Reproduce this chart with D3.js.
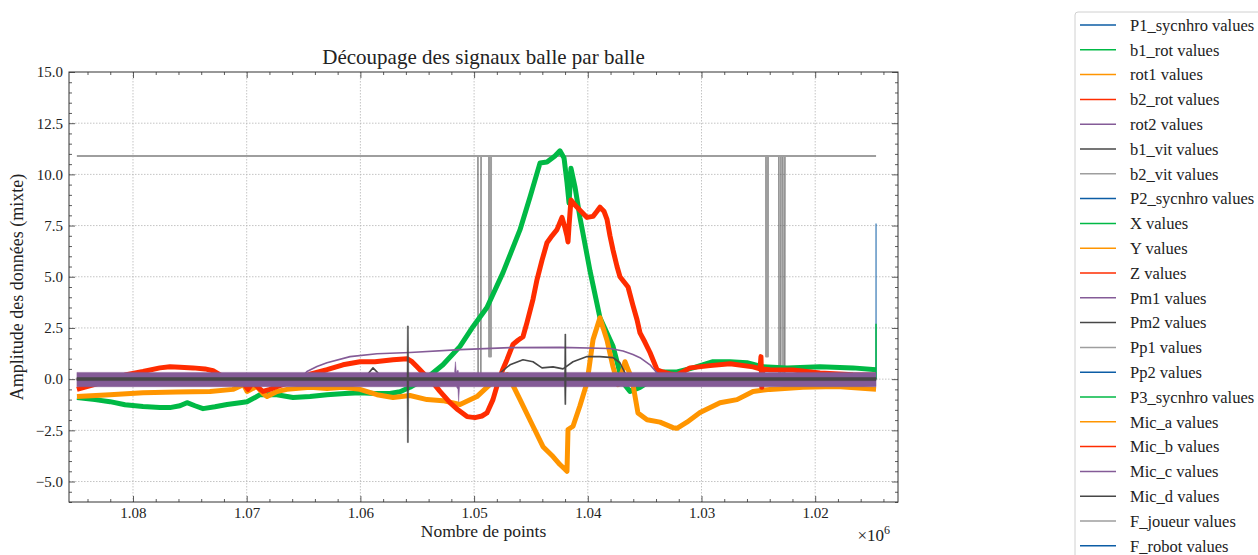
<!DOCTYPE html>
<html><head><meta charset="utf-8">
<script src="https://cdn.jsdelivr.net/npm/d3@7"></script>
<style>
body{margin:0;background:#fff;}
text{font-family:"Liberation Serif","DejaVu Serif",serif;fill:#222;}
</style>
</head><body>
<svg id="chart" width="1258" height="555"></svg>
<script>
// ---------------- DATA ----------------
const seriesNames = ["P1_sycnhro values","b1_rot values","rot1 values","b2_rot values","rot2 values",
  "b1_vit values","b2_vit values","P2_sycnhro values","X values","Y values","Z values","Pm1 values",
  "Pm2 values","Pp1 values","Pp2 values","P3_sycnhro values","Mic_a values","Mic_b values",
  "Mic_c values","Mic_d values","F_joueur values","F_robot values"];
const palette = ["#0C5DA5","#00B945","#FF9500","#FF2C00","#845B97","#474747","#9e9e9e"];
const xTicks = [1080000,1070000,1060000,1050000,1040000,1030000,1020000];
const yTicks = [-5,-2.5,0,2.5,5,7.5,10,12.5,15];

const xStart = 1084930, xEnd = 1014650;
const zeroLine = [[xStart,0],[xEnd,0]];

const X_values = [[1084930,-0.9],[1083340,-1.0],[1082020,-1.1],[1080700,-1.25],[1079120,-1.34],[1077630,-1.38],
 [1076750,-1.39],[1075870,-1.3],[1075250,-1.15],[1074550,-1.3],[1073840,-1.44],[1072790,-1.35],[1071730,-1.24],
 [1070590,-1.15],[1069970,-1.1],[1069270,-0.9],[1068830,-0.76],[1067340,-0.76],[1065930,-0.9],[1064430,-0.85],
 [1062940,-0.76],[1061350,-0.7],[1060040,-0.66],[1058720,-0.7],[1057400,-0.7],[1056520,-0.62],[1055640,-0.4],
 [1054140,0.07],[1052740,0.7],[1051240,1.6],[1050100,2.56],[1048870,3.5],[1047460,5.2],[1045960,7.3],
 [1045080,8.9],[1044200,10.56],[1043590,10.6],[1042890,10.9],[1042450,11.15],[1042090,10.8],[1041830,9.6],
 [1041650,8.6],[1041480,10.3],[1041130,9.4],[1040690,7.9],[1039810,5.3],[1038930,3.0],[1037780,1.6],
 [1037170,0.3],[1036730,-0.3],[1036290,-0.6],[1035410,-0.4],[1034530,-0.1],[1033650,0.35],[1032160,0.35],
 [1030750,0.55],[1028990,0.85],[1027490,0.85],[1026000,0.8],[1024590,0.6],[1022480,0.55],[1019580,0.6],
 [1016680,0.55],[1014650,0.46]];

const Y_values = [[1084930,-0.85],[1082020,-0.76],[1079120,-0.66],[1076130,-0.63],[1073230,-0.6],[1071210,-0.5],
 [1070590,-0.35],[1070410,-0.17],[1070150,-0.4],[1069970,-0.6],[1069450,-0.45],[1069090,-0.36],[1068570,-0.7],
 [1068210,-0.85],[1067340,-0.6],[1066460,-0.5],[1064430,-0.4],[1062940,-0.46],[1061530,-0.4],[1060040,-0.5],
 [1058540,-0.76],[1057130,-0.9],[1055640,-0.8],[1054140,-1.0],[1052740,-1.05],[1051240,-1.24],[1049750,-0.85],
 [1048340,-0.12],[1047110,0.22],[1046580,-0.3],[1045960,-1.0],[1044820,-2.3],[1043940,-3.3],[1043060,-3.78],
 [1042450,-4.17],[1042010,-4.4],[1041830,-4.5],[1041740,-2.46],[1041300,-2.3],[1040690,-1.3],[1040070,-0.17],
 [1039540,1.93],[1038930,3.0],[1038310,1.9],[1037780,0.6],[1037340,-0.27],[1036900,0.5],[1036730,0.85],
 [1036550,0.6],[1036110,0.0],[1035590,-1.65],[1034790,-1.98],[1033650,-2.1],[1032510,-2.37],[1032160,-2.4],
 [1031280,-2.1],[1030130,-1.63],[1028370,-1.15],[1026880,-1.0],[1025470,-0.6],[1023980,-0.5],[1021070,-0.4],
 [1018080,-0.36],[1014650,-0.5]];

const Z_values = [[1084930,-0.5],[1083340,-0.25],[1082020,-0.02],[1080700,0.2],[1079120,0.37],[1077630,0.55],
 [1076750,0.6],[1075870,0.58],[1074720,0.55],[1073670,0.5],[1072960,0.41],[1072080,0.12],[1071210,0.05],
 [1070590,0.0],[1070150,-0.3],[1069890,-0.5],[1069450,-0.15],[1069010,-0.4],[1068570,-0.6],[1067950,-0.5],
 [1067340,-0.36],[1065930,-0.1],[1064430,0.24],[1062940,0.46],[1061530,0.7],[1060040,0.85],[1058720,0.85],
 [1057130,0.95],[1055900,1.0],[1055460,0.85],[1055020,0.6],[1054320,0.2],[1053620,-0.17],[1053000,-0.6],
 [1052120,-1.15],[1051420,-1.5],[1050620,-1.83],[1049920,-1.88],[1049310,-1.8],[1048870,-1.65],[1048340,-1.0],
 [1047900,-0.17],[1047460,0.5],[1047110,0.95],[1046580,1.7],[1046140,1.9],[1045700,2.07],[1045350,2.76],
 [1044820,3.9],[1044470,4.85],[1044030,5.8],[1043590,6.66],[1043150,7.0],[1042710,7.3],[1042270,7.9],
 [1042010,7.4],[1041830,7.0],[1041740,6.7],[1041650,7.5],[1041480,8.75],[1041130,8.5],[1040690,8.25],
 [1040070,7.9],[1039540,7.95],[1039190,8.2],[1038930,8.4],[1038580,8.2],[1038310,7.8],[1038050,7.0],
 [1037780,6.3],[1037430,5.5],[1037170,5.0],[1036460,4.5],[1036030,3.6],[1035670,2.9],[1035410,2.26],
 [1034970,1.8],[1034530,1.3],[1033910,0.46],[1033390,0.35],[1032770,0.25],[1032160,0.2],[1031010,0.55],
 [1029250,0.66],[1027490,0.75],[1025470,0.6],[1024850,0.5],[1024770,1.1],[1024700,-0.4],[1024600,0.5],
 [1023980,0.46],[1021950,0.45],[1019580,0.3],[1016680,0.22],[1014650,0.2]];

const Pm1_values = [[1084930,0],[1065310,0],[1064700,0.37],[1063820,0.62],[1062940,0.8],[1060910,1.1],
 [1058540,1.24],[1055640,1.3],[1051240,1.44],[1046840,1.54],[1042450,1.55],[1038050,1.5],[1036900,1.37],
 [1036030,1.2],[1035410,1.05],[1034530,0.7],[1033910,0.3],[1033390,0],[1014650,0]];

const Pm2_values = [[1084930,0],[1060040,0],[1059420,0.2],[1058890,0.55],[1058450,0.3],[1058010,-0.3],
 [1057570,-0.1],[1057130,0],[1048160,0],[1047720,0.3],[1046840,0.7],[1045700,0.95],[1044820,0.85],
 [1044030,0.55],[1043060,0.6],[1042180,0.5],[1041300,0.85],[1040070,1.1],[1038930,1.1],[1037780,1.05],
 [1037170,0.8],[1036550,0.1],[1036290,0],[1014650,0]];

const b1_vit_values = [[1084930,10.9],[1049660,10.9],[1049650,0.1],[1049400,0.1],[1049390,10.9],
 [1023190,10.9],[1023180,0.1],[1023020,0.1],[1023010,10.9],[1022840,10.9],[1022830,0.1],[1022670,0.1],
 [1022660,10.9],[1014650,10.9]];

const b2_vit_values = [[1084930,10.9],[1048690,10.9],[1048680,1.1],[1048520,1.1],[1048510,10.9],
 [1024330,10.9],[1024320,1.1],[1024160,1.1],[1024150,10.9],[1014650,10.9]];

const Pp2_values = [[1014650,0],[1014650,7.6]];
const P3_values = [[1014650,0],[1014650,2.7]];

// noise envelopes [x, low, high]
const Mic_c_band = [[1084930,-0.37,0.33],[1051720,-0.37,0.33],[1051640,-0.37,0.85],[1051560,-0.37,0.33],
 [1051420,-0.5,0.45],[1051360,-1.1,0.33],[1051280,-0.37,0.33],[1014650,-0.37,0.33]];
const Mic_d_band = [[1084930,-0.07,0.08],[1055900,-0.07,0.08],[1055870,-3.1,2.6],[1055780,-3.1,2.6],
 [1055750,-0.07,0.08],[1042050,-0.07,0.08],[1042020,-1.24,2.2],[1041930,-1.24,2.2],[1041900,-0.07,0.08],
 [1014650,-0.07,0.08]];

// series -> data (index follows seriesNames order)
const seriesData = [zeroLine, zeroLine, zeroLine, zeroLine, zeroLine, b1_vit_values, b2_vit_values, zeroLine,
  X_values, Y_values, Z_values, Pm1_values, Pm2_values, [], Pp2_values, P3_values, zeroLine, zeroLine,
  Mic_c_band, Mic_d_band, [], []];
const seriesKind = seriesData.map((d,i) => (i===18||i===19) ? "band" : "line");
const seriesWidth = [1,1,1,1,1,1,2,1,5,5,5,1.6,1.6,1,1,1.5,1,1,0,0,1,1];

// ---------------- CHART ----------------
const svg = d3.select("#chart");
const W = 1258, H = 555;
const m = {left:69, right:898, top:72, bottom:502};
const x = d3.scaleLinear().domain([1085628, 1012718]).range([m.left, m.right]);
const y = d3.scaleLinear().domain([-6, 15]).range([m.bottom, m.top]);

svg.append("rect").attr("width",W).attr("height",H).attr("fill","#fff");

svg.append("defs").append("clipPath").attr("id","clip")
  .append("rect").attr("x",m.left).attr("y",m.top).attr("width",m.right-m.left).attr("height",m.bottom-m.top);

// grid
const grid = svg.append("g");
grid.selectAll(".gx").data(xTicks).enter().append("line")
  .attr("x1",d=>x(d)).attr("x2",d=>x(d)).attr("y1",m.top).attr("y2",m.bottom)
  .attr("stroke","#b5b5b5").attr("stroke-width",0.8).attr("stroke-dasharray","1.5,1.5");
grid.selectAll(".gy").data(yTicks.filter(v=>v<15)).enter().append("line")
  .attr("y1",d=>y(d)).attr("y2",d=>y(d)).attr("x1",m.left).attr("x2",m.right)
  .attr("stroke","#b5b5b5").attr("stroke-width",0.8).attr("stroke-dasharray","1.5,1.5");

// data
const plot = svg.append("g").attr("clip-path","url(#clip)");
const line = d3.line().x(d=>x(d[0])).y(d=>y(d[1]));
const area = d3.area().x(d=>x(d[0])).y0(d=>y(d[1])).y1(d=>y(d[2]));
seriesData.forEach((d,i) => {
  if (!d.length) return;
  const col = palette[i % palette.length];
  if (seriesKind[i] === "band") {
    plot.append("path").datum(d).attr("d",area).attr("fill",col).attr("stroke",col).attr("stroke-width",0.5);
  } else {
    plot.append("path").datum(d).attr("d",line).attr("fill","none").attr("stroke",col)
      .attr("stroke-width",seriesWidth[i]).attr("stroke-linejoin","round").attr("stroke-linecap","butt");
  }
});

// axes
const xMinor = d3.range(1014000, 1086000, 2000).filter(v => v % 10000 !== 0);
const yMinor = d3.range(-6, 15.01, 0.5).filter(v => Math.abs(v/2.5 - Math.round(v/2.5)) > 1e-6);
const fmtX = d => (d/1e6).toFixed(2);
const fmtY = d => d.toFixed(1).replace("-", "\u2212");

function styleAxis(g){ g.select(".domain").remove(); g.selectAll("line").attr("stroke","#333").attr("stroke-width",0.8);
  g.selectAll("text").style("font-size","15px").attr("fill","#222").style("font-family",'"Liberation Serif",serif'); }

svg.append("g").attr("transform",`translate(0,${m.bottom})`)
  .call(d3.axisBottom(x).tickValues(xTicks).tickFormat(fmtX).tickSizeInner(-6).tickSizeOuter(0).tickPadding(5)).call(styleAxis);
svg.append("g").attr("transform",`translate(0,${m.bottom})`)
  .call(d3.axisBottom(x).tickValues(xMinor).tickFormat("").tickSizeInner(-3).tickSizeOuter(0)).call(styleAxis);
svg.append("g").attr("transform",`translate(0,${m.top})`)
  .call(d3.axisTop(x).tickValues(xTicks).tickFormat("").tickSizeInner(-6).tickSizeOuter(0)).call(styleAxis);
svg.append("g").attr("transform",`translate(0,${m.top})`)
  .call(d3.axisTop(x).tickValues(xMinor).tickFormat("").tickSizeInner(-3).tickSizeOuter(0)).call(styleAxis);
svg.append("g").attr("transform",`translate(${m.left},0)`)
  .call(d3.axisLeft(y).tickValues(yTicks).tickFormat(fmtY).tickSizeInner(-6).tickSizeOuter(0).tickPadding(6)).call(styleAxis);
svg.append("g").attr("transform",`translate(${m.left},0)`)
  .call(d3.axisLeft(y).tickValues(yMinor).tickFormat("").tickSizeInner(-3).tickSizeOuter(0)).call(styleAxis);
svg.append("g").attr("transform",`translate(${m.right},0)`)
  .call(d3.axisRight(y).tickValues(yTicks).tickFormat("").tickSizeInner(-6).tickSizeOuter(0)).call(styleAxis);
svg.append("g").attr("transform",`translate(${m.right},0)`)
  .call(d3.axisRight(y).tickValues(yMinor).tickFormat("").tickSizeInner(-3).tickSizeOuter(0)).call(styleAxis);

svg.append("rect").attr("x",m.left).attr("y",m.top).attr("width",m.right-m.left).attr("height",m.bottom-m.top)
  .attr("fill","none").attr("stroke","#333").attr("stroke-width",1);

// titles
svg.append("text").attr("x",(m.left+m.right)/2).attr("y",64).attr("text-anchor","middle")
  .style("font-size","21px").text("Découpage des signaux balle par balle");
svg.append("text").attr("x",(m.left+m.right)/2).attr("y",537).attr("text-anchor","middle")
  .style("font-size","17.5px").text("Nombre de points");
svg.append("text").attr("transform",`translate(23,${(m.top+m.bottom)/2}) rotate(-90)`).attr("text-anchor","middle")
  .style("font-size","18px").text("Amplitude des données (mixte)");
const mult = svg.append("text").attr("x",m.right-8).attr("y",541).attr("text-anchor","end").style("font-size","17px");
mult.append("tspan").text("\u00d710");
mult.append("tspan").attr("dy",-7).style("font-size","12px").text("6");

// legend
const lg = svg.append("g");
lg.append("rect").attr("x",1075).attr("y",12).attr("width",200).attr("height",560).attr("rx",3)
  .attr("fill","#fff").attr("stroke","#d0d0d0").attr("stroke-width",1);
seriesNames.forEach((name,i) => {
  const yy = 25 + i*24.8;
  lg.append("line").attr("x1",1080).attr("x2",1116).attr("y1",yy).attr("y2",yy)
    .attr("stroke",palette[i%palette.length]).attr("stroke-width",1.5);
  lg.append("text").attr("x",1130).attr("y",yy).attr("dy","0.35em").style("font-size","16.5px").text(name);
});
</script>
</body></html>
